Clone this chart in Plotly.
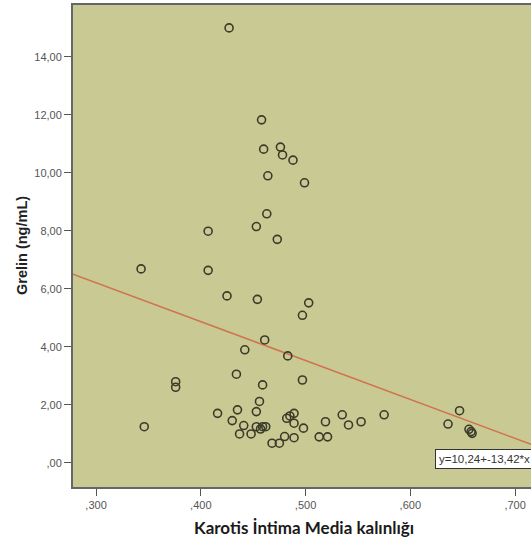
import plotly.graph_objects as go

# Scatter data: Karotis Intima Media kalınlığı (x) vs Grelin ng/mL (y)
kim = [0.427, 0.458, 0.460, 0.476, 0.478, 0.488, 0.464, 0.499,
       0.463, 0.407, 0.453, 0.473, 0.407, 0.425, 0.454, 0.503, 0.497,
       0.343, 0.376, 0.376, 0.346, 0.416,
       0.461, 0.442, 0.483, 0.434, 0.497, 0.459, 0.456,
       0.435, 0.453, 0.430, 0.441, 0.437, 0.448, 0.453, 0.457, 0.459, 0.462,
       0.468, 0.475, 0.482, 0.485, 0.489, 0.480, 0.489, 0.489, 0.498,
       0.513, 0.519, 0.521,
       0.535, 0.541, 0.553, 0.575, 0.636, 0.647, 0.656, 0.658, 0.659]
grelin = [15.00, 11.83, 10.82, 10.89, 10.62, 10.44, 9.90, 9.66,
          8.59, 7.99, 8.15, 7.71, 6.64, 5.76, 5.64, 5.52, 5.09,
          6.69, 2.80, 2.61, 1.25, 1.71,
          4.24, 3.90, 3.69, 3.06, 2.86, 2.69, 2.12,
          1.83, 1.77, 1.46, 1.29, 1.00, 1.00, 1.25, 1.17, 1.25, 1.25,
          0.68, 0.68, 1.54, 1.62, 1.71, 0.91, 1.37, 0.87, 1.20,
          0.90, 1.42, 0.90,
          1.66, 1.31, 1.42, 1.66, 1.34, 1.80, 1.16, 1.08, 1.02]

# Fit line coefficients (from the label y=10,24+-13,42*x)
intercept = 10.24
slope = -13.42

x_ticks = [0.3, 0.4, 0.5, 0.6, 0.7]
x_ticktext = [",300", ",400", ",500", ",600", ",700"]
y_ticks = [0, 2, 4, 6, 8, 10, 12, 14]
y_ticktext = [",00", "2,00", "4,00", "6,00", "8,00", "10,00", "12,00", "14,00"]

x_range = [0.278, 0.7152]
y_range = [-0.83, 15.79]

fig = go.Figure()

fig.add_trace(go.Scatter(
    x=x_range,
    y=[intercept + slope * v for v in x_range],
    mode="lines",
    line=dict(color="#d0744f", width=1.6),
    hoverinfo="skip",
    showlegend=False,
))

fig.add_trace(go.Scatter(
    x=kim, y=grelin, mode="markers",
    marker=dict(symbol="circle-open", size=8,
                color="#3b3b2a", line=dict(width=1.6, color="#3b3b2a")),
    showlegend=False,
))

fig.update_layout(
    width=531, height=547,
    margin=dict(l=73, r=0, t=5, b=60),
    paper_bgcolor="white",
    plot_bgcolor="#c9c993",
    font=dict(family="Liberation Sans, Arial, sans-serif", color="#555555", size=11),
    xaxis=dict(
        range=x_range, tickvals=x_ticks, ticktext=x_ticktext,
        showgrid=False, zeroline=False,
        showline=True, linecolor="#666666", linewidth=2, mirror=True,
        ticks="outside", ticklen=7, tickwidth=1.2, tickcolor="#555555",
        tickfont=dict(size=11, color="#555555"),
    ),
    yaxis=dict(
        range=y_range, tickvals=y_ticks, ticktext=y_ticktext,
        showgrid=False, zeroline=False,
        showline=True, linecolor="#666666", linewidth=2,
        ticks="outside", ticklen=7, tickwidth=1.2, tickcolor="#555555",
        tickfont=dict(size=11, color="#555555"),
    ),
    annotations=[
        dict(text="<b>Grelin (ng/mL)</b>", xref="paper", yref="paper",
             x=(22 - 73) / 458, y=0.5, textangle=-90, showarrow=False,
             xanchor="center", yanchor="middle",
             font=dict(family="Liberation Sans, Arial, sans-serif", size=14.5, color="#222222")),
        dict(text="<b>Karotis İntima Media kalınlığı</b>", xref="paper", yref="paper",
             x=(304 - 73) / 458, y=-(527 - 487) / 482, showarrow=False,
             xanchor="center", yanchor="middle",
             font=dict(family="Lato, sans-serif", size=17, color="#1a1a1a")),
        dict(text="y=10,24+-13,42*x", xref="paper", yref="paper",
             x=(435 - 73) / 458, y=(487 - 458.5) / 482, showarrow=False,
             xanchor="left", yanchor="middle",
             bgcolor="white", bordercolor="#333333", borderwidth=1, borderpad=3,
             font=dict(family="Liberation Sans, Arial, sans-serif", size=11.5, color="#333333")),
    ],
)

fig.write_html("out.html", config={"displayModeBar": False},
               post_script="document.body.style.margin='0';document.body.style.overflow='hidden';")
